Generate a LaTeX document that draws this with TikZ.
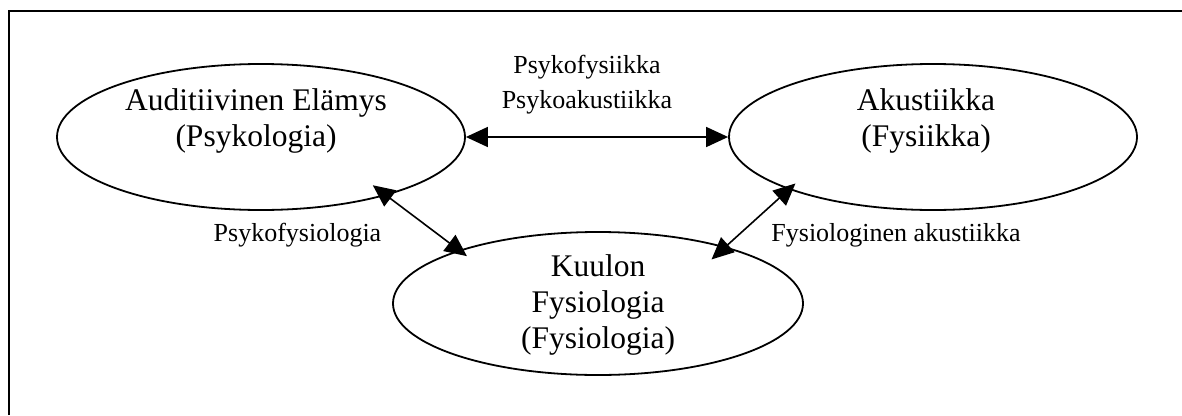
\documentclass[tikz,border=0pt]{standalone}
\usepackage{fontspec}
\setmainfont{Liberation Serif}
\usetikzlibrary{shapes.geometric,arrows.meta}

\begin{document}
\begin{tikzpicture}[x=1pt,y=-1pt,
    fieldbox/.style={draw,ellipse,line width=1.8pt,minimum width=408pt,minimum height=146pt},
    fieldtext/.style={align=center,inner sep=0pt,font=\fontsize{31.5}{36}\selectfont},
    linktext/.style={align=center,inner sep=0pt,font=\fontsize{26}{35}\selectfont},
    linkarrow/.style={{Triangle[length=22pt,width=20pt]}-{Triangle[length=22pt,width=20pt]},line width=1.6pt}]
    \useasboundingbox (0,0) rectangle (1182,415);
    \draw[line width=2.5pt] (9,415) -- (9,11) -- (1182,11);
    % the three fields
    \node[fieldbox] (aud) at (261,137){};
    \node[fieldbox] (aku) at (933,137){};
    \node[fieldbox,minimum width=410pt,minimum height=143pt] (kuu) at (598,303.5){};
    \node[fieldtext] (audtxt) at (256,121){Auditiivinen Elämys\\(Psykologia)};
    \node[fieldtext] (akutxt) at (926,121){Akustiikka\\(Fysiikka)};
    \node[fieldtext] (kuutxt) at (598,304.5){Kuulon\\Fysiologia\\(Fysiologia)};
    % links between them
    \draw[linkarrow] (aud.east) -- (aku.west);
    \draw[linkarrow,shorten <=-17pt,shorten >=-10pt] (aud.-25.5) -- (kuu.159.8);
    \draw[linkarrow,shorten <=-9pt,shorten >=-19pt] (aku.200.9) -- (kuu.24.9);
    \node[linktext] (psyko) at (587,84.5){Psykofysiikka\\Psykoakustiikka};
    \node[linktext] (psyfys) at (297.5,235){Psykofysiologia};
    \node[linktext] (fysak) at (896,235){Fysiologinen akustiikka};
\end{tikzpicture}
\end{document}
